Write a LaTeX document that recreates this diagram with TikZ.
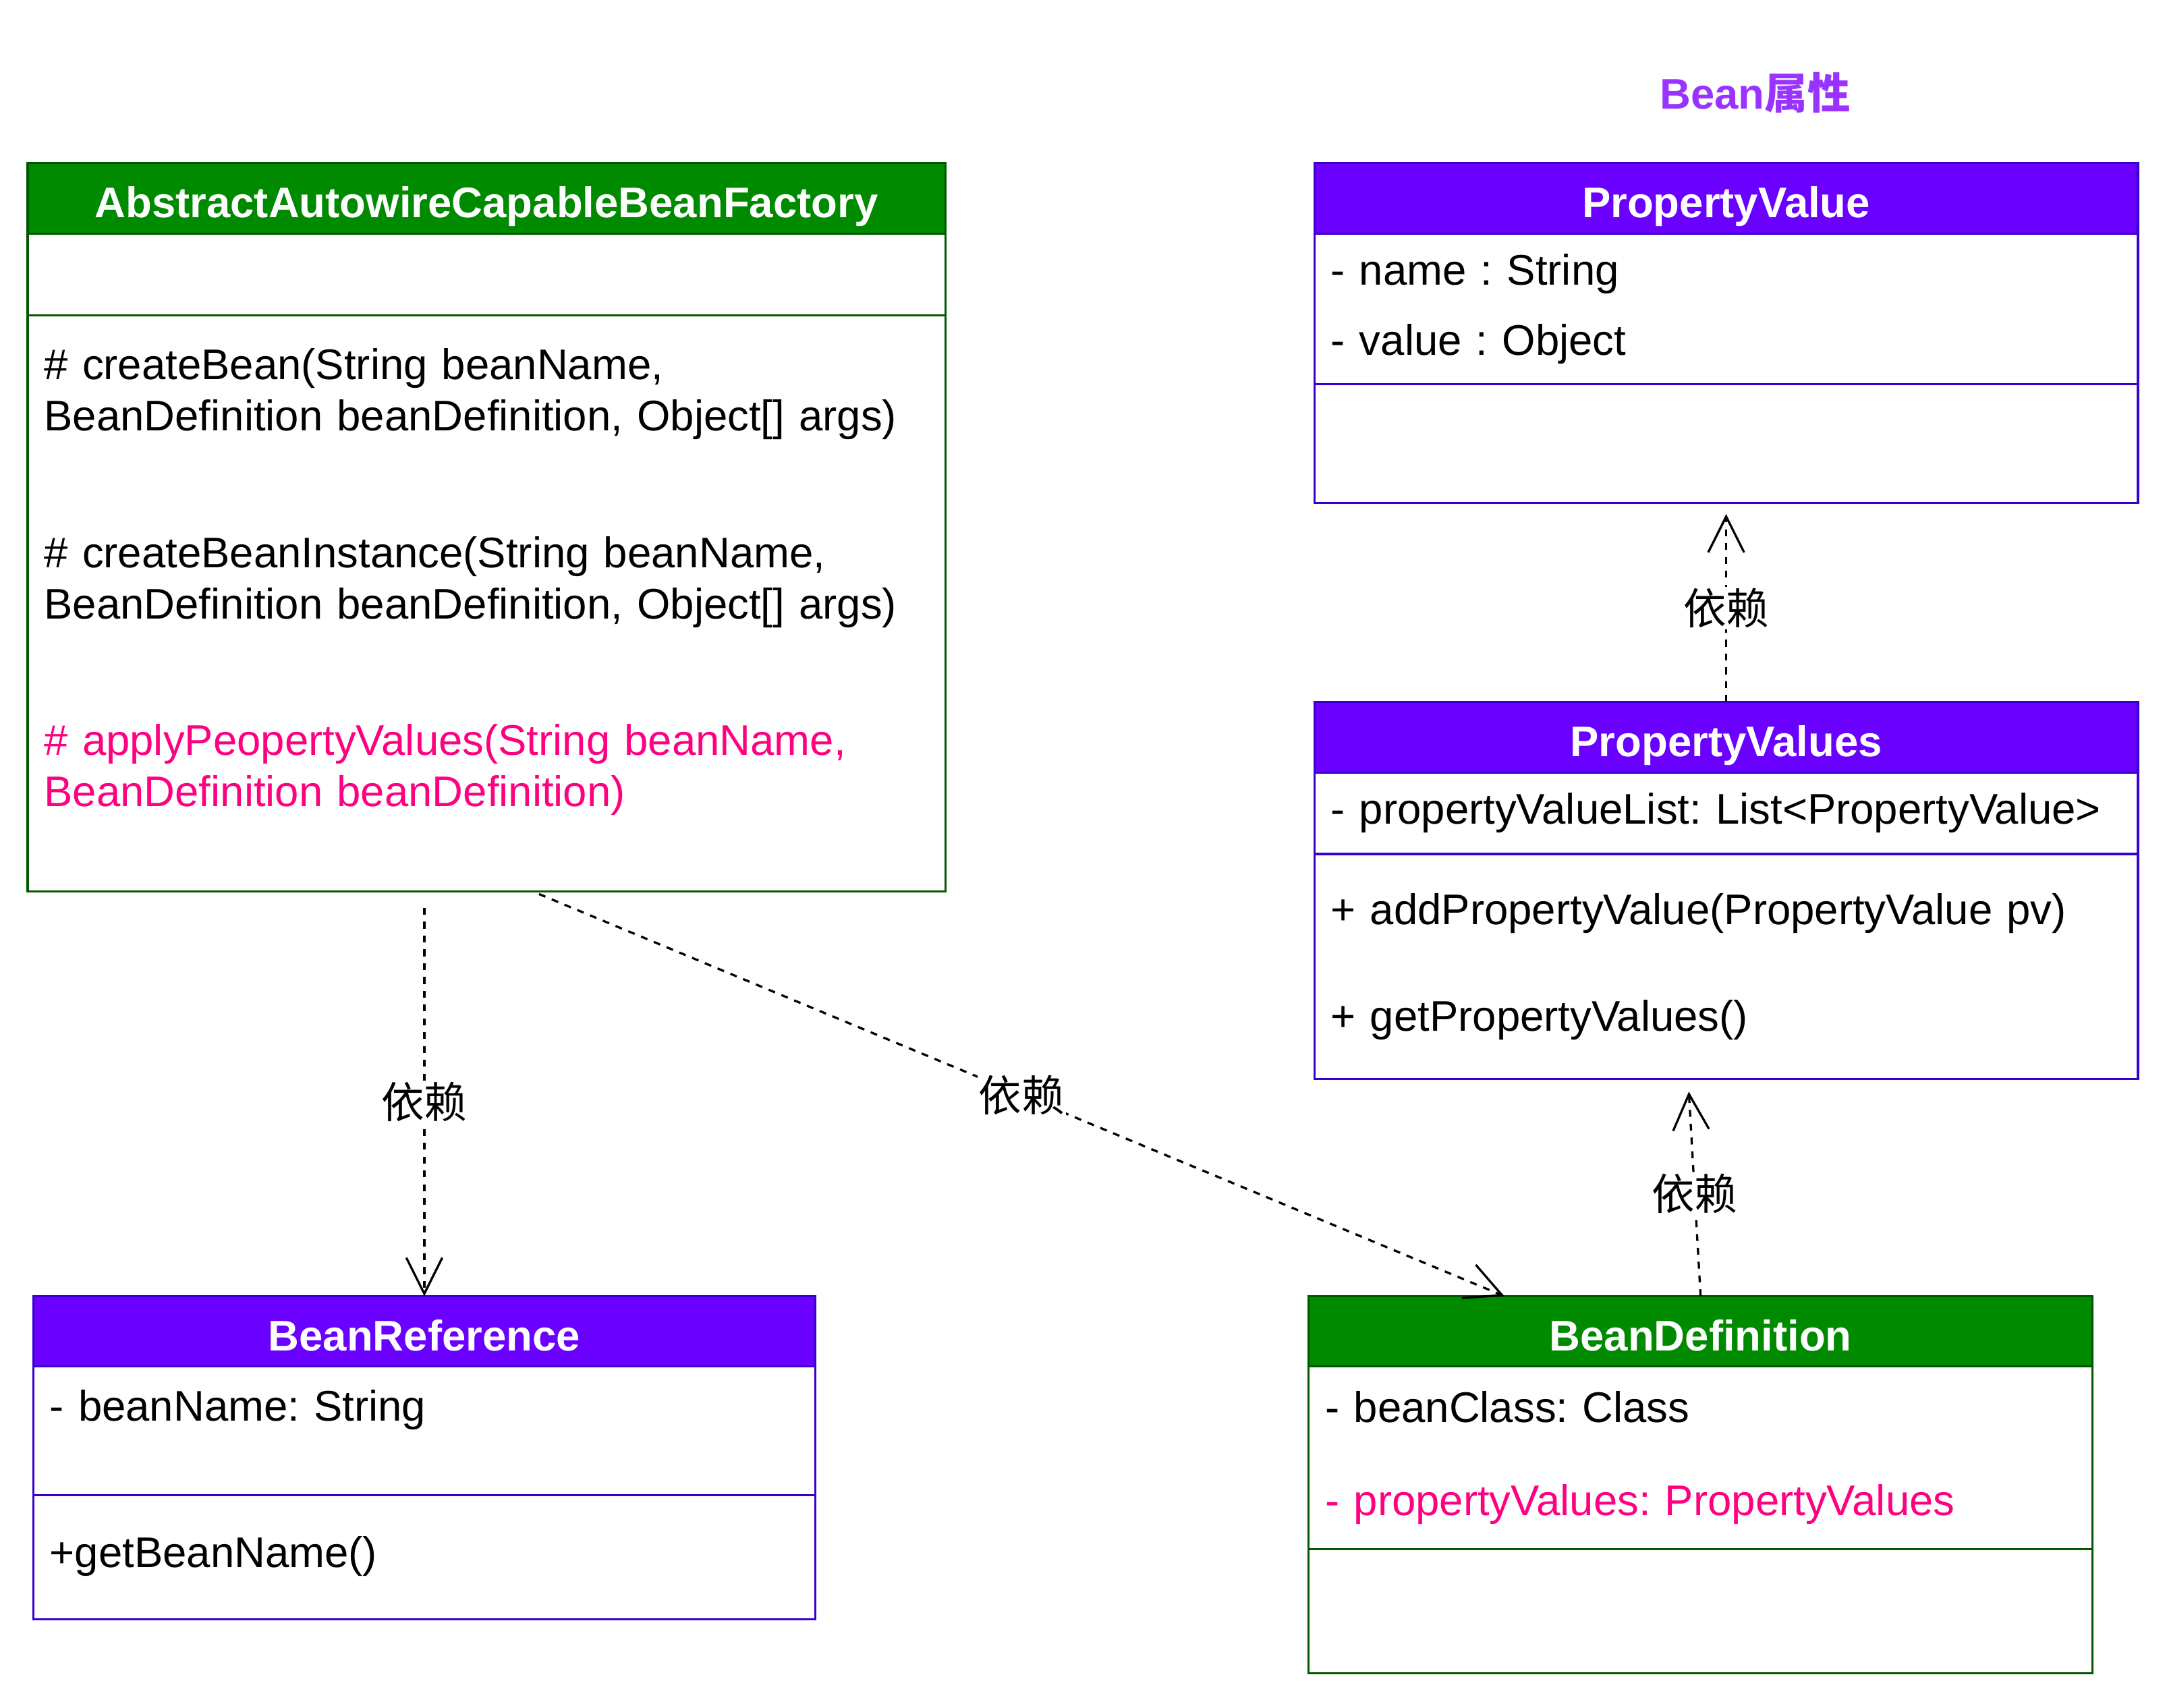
\documentclass[tikz,border=0pt]{standalone}
\usepackage{fontspec}
\setmainfont{Liberation Sans}
\newfontfamily\cjk{Noto Sans CJK SC}
\usepackage{tikz}
\usetikzlibrary{positioning,arrows.meta}
\definecolor{headgreen}{HTML}{008A00}
\definecolor{bordergreen}{HTML}{005700}
\definecolor{headpurple}{HTML}{6A00FF}
\definecolor{borderpurple}{HTML}{3700CC}
\definecolor{methodred}{HTML}{FF0080}
\definecolor{titlepurple}{HTML}{9933FF}
\frenchspacing

\begin{document}
\begin{tikzpicture}[x=1pt, y=-1pt,
		every node/.style={font=\fontsize{31}{37}\selectfont, outer sep=0pt},
		classhead/.style={draw, line width=1.5pt, text=white, inner sep=0pt, minimum height=51pt,
				text height=28pt, text depth=0pt, font=\fontsize{31}{37}\selectfont\bfseries},
		classpart/.style={draw, line width=1.5pt, fill=white, align=left, inner xsep=12pt, inner ysep=0pt},
		greenhead/.style={fill=headgreen, draw=bordergreen},
		purplehead/.style={fill=headpurple, draw=borderpurple},
		greenpart/.style={draw=bordergreen},
		purplepart/.style={draw=borderpurple},
		depends/.style={draw, line width=1.6pt, dash pattern=on 5pt off 5pt,
				-{Straight Barb[length=26pt,width=26pt]}},
		deplabel/.style={fill=white, inner sep=1pt, font=\cjk\fontsize{31}{37}\selectfont}]
	\useasboundingbox (0,0) rectangle (1568,1236);

	% title of the property group
	\node[text=titlepurple, font=\fontsize{31}{37}\selectfont\bfseries] (title) at (1270,67) {Bean{\cjk 属性}};

	% factory class
	\node[classhead, greenhead, minimum width=664pt] (factory) at (352,143.5) {AbstractAutowireCapableBeanFactory};
	\node[classpart, greenpart, text width=640pt, minimum height=59pt, below=0pt of factory] (factory-fields) {};
	\node[classpart, greenpart, text width=640pt, minimum height=417pt, below=0pt of factory-fields] (factory-methods)
		{\# createBean(String beanName,\\ BeanDefinition beanDefinition, Object[] args)\\[62pt]
		 \# createBeanInstance(String beanName,\\ BeanDefinition beanDefinition, Object[] args)\\[62pt]
		 \color{methodred}\# applyPeopertyValues(String beanName,\\ BeanDefinition beanDefinition)\\ \mbox{}};

	% PropertyValue
	\node[classhead, purplehead, minimum width=596pt] (pv) at (1249,143.5) {PropertyValue};
	\node[classpart, purplepart, text width=572pt, minimum height=109pt, below=0pt of pv] (pv-fields)
		{- name : String\\[14pt] - value : Object};
	\node[classpart, purplepart, text width=572pt, minimum height=86pt, below=0pt of pv-fields] (pv-methods) {};

	% PropertyValues
	\node[classhead, purplehead, minimum width=596pt] (pvs) at (1249,533.5) {PropertyValues};
	\node[classpart, purplepart, text width=572pt, minimum height=59pt, below=0pt of pvs] (pvs-fields)
		{- propertyValueList: List<PropertyValue>};
	\node[classpart, purplepart, text width=572pt, minimum height=163pt, below=0pt of pvs-fields] (pvs-methods)
		{+ addPropertyValue(PropertyValue pv)\\[40pt] + getPropertyValues()};

	% BeanReference
	\node[classhead, purplehead, minimum width=566pt] (bref) at (307,963.5) {BeanReference};
	\node[classpart, purplepart, text width=542pt, minimum height=93pt, below=0pt of bref] (bref-fields)
		{- beanName: String\\ \mbox{}};
	\node[classpart, purplepart, text width=542pt, minimum height=90pt, below=0pt of bref-fields] (bref-methods)
		{+getBeanName()\\[-29pt] \mbox{}};

	% BeanDefinition
	\node[classhead, greenhead, minimum width=567pt] (bdef) at (1230.5,963.5) {BeanDefinition};
	\node[classpart, greenpart, text width=543pt, minimum height=132pt, below=0pt of bdef] (bdef-fields)
		{- beanClass: Class\\[30pt] \color{methodred}- propertyValues: PropertyValues};
	\node[classpart, greenpart, text width=543pt, minimum height=90pt, below=0pt of bdef-fields] (bdef-methods) {};

	% dependencies
	\draw[depends] ([yshift=-12pt]bref.north |- factory-methods.south) -- node[deplabel] {依赖} (bref.north);
	\draw[depends] ([xshift=38pt,yshift=-2pt]factory-methods.south) -- node[deplabel] {依赖} ([xshift=-142pt]bdef.north);
	\draw[depends] (bdef.north) -- node[deplabel] {依赖} ([xshift=-27pt,yshift=-9pt]pvs-methods.south);
	\draw[depends] (pvs.north) -- node[deplabel] {依赖} ([yshift=-8pt]pv-methods.south);
\end{tikzpicture}
\end{document}
